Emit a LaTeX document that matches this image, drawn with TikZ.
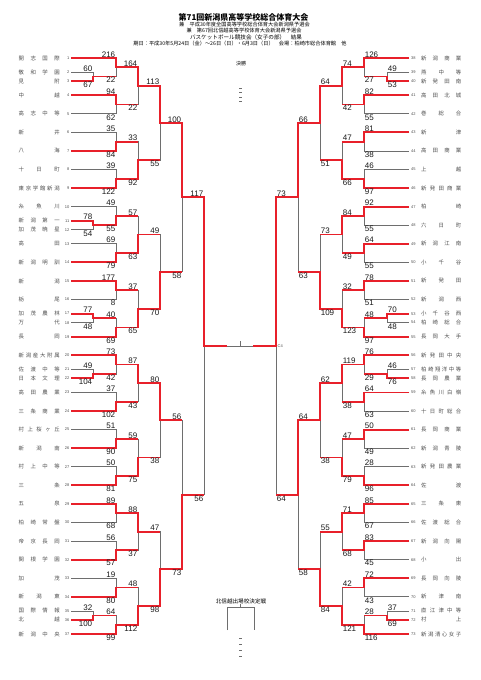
\documentclass[tikz,border=0pt]{standalone}
\usepackage{fontspec}
\setmainfont{Liberation Sans}
\newfontfamily\jp{Noto Sans CJK JP}
\pgfdeclarelayer{bg}
\pgfdeclarelayer{paper}
\pgfsetlayers{paper,bg,main}
\definecolor{rred}{HTML}{E8202A}
\definecolor{lgray}{HTML}{6E6E6E}
\definecolor{tgray}{HTML}{505050}
\def\spreadA#1#2{#1\ifx\relax#2\else\hfill\expandafter\spreadA\expandafter#2\fi}
\newcount\lbc
\tikzset{
 gl/.style={draw=lgray,line width=0.7pt},
 rl/.style={draw=rred,line width=1.8pt},
 sc/.style={font=\fontsize{8}{8.5}\selectfont,inner sep=0.6pt,text=black!90},
 tn/.style={font=\jp\fontsize{5.4}{6}\selectfont,inner sep=0pt,text=tgray},
 tnum/.style={font=\fontsize{4}{4.5}\selectfont,inner sep=0pt,text=tgray},
 hd/.style={font=\jp\fontsize{5.2}{6}\selectfont,inner sep=0pt},
 ta/.style={anchor=south east},tb/.style={anchor=north east}
}
% #1 vertical x, #2 top y, #3 bottom y, #4 top start x, #5 bottom start x,
% #6 top score, #7 bottom score, #8 winner (1 top,2 bottom), #9 next x
\newcommand\MM[9]{%
 \begin{pgfonlayer}{bg}\draw[gl] (#4,#2) -- (#1,#2) -- (#1,#3) -- (#5,#3);\end{pgfonlayer}
 \ifnum#8=1
  \draw[rl] (#4,#2) -- (#1,#2) -- (#1,{(#2+#3)/2}) -- (#9,{(#2+#3)/2});
 \else
  \draw[rl] (#5,#3) -- (#1,#3) -- (#1,{(#2+#3)/2}) -- (#9,{(#2+#3)/2});
 \fi
 \global\advance\lbc by 1
 \node[sc,ta] (s\the\lbc a) at (#1,#2) {#6};
 \node[sc,tb] (s\the\lbc b) at (#1,#3) {#7};
}
\newcommand\TL[3]{\node[tn,anchor=west] (tl#2) at (18.5,#1) {\hbox to 41pt{\spreadA#3\relax}};
 \node[tnum,anchor=east] (nl#2) at (69.5,#1) {#2};}
\newcommand\TR[3]{\node[tn,anchor=west] (tr#2) at (421,#1) {\hbox to 40pt{\spreadA#3\relax}};
 \node[tnum,anchor=west] (nr#2) at (411,#1) {#2};}
\begin{document}
\begin{tikzpicture}[x=1pt,y=-1pt]
\begin{pgfonlayer}{paper}
\fill[white] (0,0) rectangle (481,680);
\end{pgfonlayer}
\useasboundingbox (0,0) rectangle (481,680);
% header
\node[font=\jp\bfseries\fontsize{8}{9}\selectfont,inner sep=0pt] (title) at (243.5,17) {第71回新潟県高等学校総合体育大会};
\node[hd] (h2) at (244.5,25) {兼　平成30年度全国高等学校総合体育大会新潟県予選会};
\node[hd] (h3) at (244,31) {兼　第67回北信越高等学校体育大会新潟県予選会};
\node[hd,font=\jp\fontsize{5.6}{6}\selectfont] (h4) at (246,37.5) {バスケットボール競技会（女子の部）　結果};
\node[hd] (h5) at (240,43.5) {期日：平成30年5月24日（金）～26日（日）・6月3日（日）　会場：柏崎市総合体育館　他};
% left teams
\TL{58.00}{1}{開志国際}
\TL{72.08}{2}{敬和学園}
\TL{81.08}{3}{見附}
\TL{95.16}{4}{中越}
\TL{113.74}{5}{高志中等}
\TL{132.32}{6}{新井}
\TL{150.90}{7}{八海}
\TL{169.48}{8}{十日町}
\TL{188.06}{9}{東京学館新潟}
\TL{206.64}{10}{糸魚川}
\TL{220.72}{11}{新潟第一}
\TL{229.72}{12}{加茂暁星}
\TL{243.80}{13}{高田}
\TL{262.38}{14}{新潟明訓}
\TL{280.96}{15}{新潟}
\TL{299.54}{16}{栃尾}
\TL{313.62}{17}{加茂農林}
\TL{322.62}{18}{万代}
\TL{336.70}{19}{長岡}
\TL{355.28}{20}{新潟産大附属}
\TL{369.36}{21}{佐渡中等}
\TL{378.36}{22}{日本文理}
\TL{392.44}{23}{高田農業}
\TL{411.02}{24}{三条商業}
\TL{429.60}{25}{村上桜ヶ丘}
\TL{448.18}{26}{新潟南}
\TL{466.76}{27}{村上中等}
\TL{485.34}{28}{三条}
\TL{503.92}{29}{五泉}
\TL{522.50}{30}{柏崎常盤}
\TL{541.08}{31}{帝京長岡}
\TL{559.66}{32}{関根学園}
\TL{578.24}{33}{加茂}
\TL{596.82}{34}{新潟東}
\TL{610.90}{35}{国際情報}
\TL{619.90}{36}{北越}
\TL{633.98}{37}{新潟中央}
% right teams
\TR{58.00}{38}{新潟商業}
\TR{72.08}{39}{燕中等}
\TR{81.08}{40}{新発田南}
\TR{95.16}{41}{高田北城}
\TR{113.74}{42}{巻総合}
\TR{132.32}{43}{新津}
\TR{150.90}{44}{高田商業}
\TR{169.48}{45}{上越}
\TR{188.06}{46}{新発田商業}
\TR{206.64}{47}{柏崎}
\TR{225.22}{48}{六日町}
\TR{243.80}{49}{新潟江南}
\TR{262.38}{50}{小千谷}
\TR{280.96}{51}{新発田}
\TR{299.54}{52}{新潟西}
\TR{313.62}{53}{小千谷西}
\TR{322.62}{54}{柏崎総合}
\TR{336.70}{55}{長岡大手}
\TR{355.28}{56}{新発田中央}
\TR{369.36}{57}{柏崎翔洋中等}
\TR{378.36}{58}{長岡農業}
\TR{392.44}{59}{糸魚川白嶺}
\TR{411.02}{60}{十日町総合}
\TR{429.60}{61}{長岡商業}
\TR{448.18}{62}{新潟青陵}
\TR{466.76}{63}{新発田農業}
\TR{485.34}{64}{佐渡}
\TR{503.92}{65}{三条東}
\TR{522.50}{66}{佐渡総合}
\TR{541.08}{67}{新潟向陽}
\TR{559.66}{68}{小出}
\TR{578.24}{69}{長岡向陵}
\TR{596.82}{70}{新津南}
\TR{610.90}{71}{直江津中等}
\TR{619.90}{72}{村上}
\TR{633.98}{73}{新潟清心女子}
% left bracket
\MM{93}{72.08}{81.08}{71}{71}{60}{67}{2}{116}
\MM{93}{220.72}{229.72}{71}{71}{78}{54}{1}{116}
\MM{93}{313.62}{322.62}{71}{71}{77}{48}{1}{116}
\MM{93}{369.36}{378.36}{71}{71}{49}{104}{2}{116}
\MM{93}{610.90}{619.90}{71}{71}{32}{100}{2}{116}
\MM{116}{58.00}{76.58}{71}{93}{216}{22}{1}{138}
\MM{116}{95.16}{113.74}{71}{71}{94}{62}{1}{138}
\MM{116}{132.32}{150.90}{71}{71}{35}{84}{2}{138}
\MM{116}{169.48}{188.06}{71}{71}{39}{122}{2}{138}
\MM{116}{206.64}{225.22}{71}{93}{49}{55}{2}{138}
\MM{116}{243.80}{262.38}{71}{71}{69}{79}{2}{138}
\MM{116}{280.96}{299.54}{71}{71}{177}{8}{1}{138}
\MM{116}{318.12}{336.70}{93}{71}{40}{69}{2}{138}
\MM{116}{355.28}{373.86}{71}{93}{73}{42}{1}{138}
\MM{116}{392.44}{411.02}{71}{71}{37}{102}{2}{138}
\MM{116}{429.60}{448.18}{71}{71}{51}{90}{2}{138}
\MM{116}{466.76}{485.34}{71}{71}{50}{81}{2}{138}
\MM{116}{503.92}{522.50}{71}{71}{89}{68}{1}{138}
\MM{116}{541.08}{559.66}{71}{71}{56}{57}{2}{138}
\MM{116}{578.24}{596.82}{71}{71}{19}{80}{2}{138}
\MM{116}{615.40}{633.98}{93}{71}{64}{99}{2}{138}
\MM{138}{67.29}{104.45}{116}{116}{164}{22}{1}{160}
\MM{138}{141.61}{178.77}{116}{116}{33}{92}{2}{160}
\MM{138}{215.93}{253.09}{116}{116}{57}{63}{2}{160}
\MM{138}{290.25}{327.41}{116}{116}{37}{65}{2}{160}
\MM{138}{364.57}{401.73}{116}{116}{87}{43}{1}{160}
\MM{138}{438.89}{476.05}{116}{116}{59}{75}{2}{160}
\MM{138}{513.21}{550.37}{116}{116}{88}{37}{1}{160}
\MM{138}{587.53}{624.69}{116}{116}{48}{112}{2}{160}
\MM{160}{85.87}{160.19}{138}{138}{113}{55}{1}{182}
\MM{160}{234.51}{308.83}{138}{138}{49}{70}{2}{182}
\MM{160}{383.15}{457.47}{138}{138}{80}{38}{1}{182}
\MM{160}{531.79}{606.11}{138}{138}{47}{98}{2}{182}
\MM{182}{123.03}{271.67}{160}{160}{100}{58}{1}{204}
\MM{182}{420.31}{568.95}{160}{160}{56}{73}{2}{204}
\MM{204}{197.35}{494.63}{182}{182}{117}{56}{1}{227}
% right bracket
\tikzset{ta/.style={anchor=south west},tb/.style={anchor=north west}}
\MM{387}{72.08}{81.08}{409}{409}{49}{53}{2}{364}
\MM{387}{313.62}{322.62}{409}{409}{70}{48}{1}{364}
\MM{387}{369.36}{378.36}{409}{409}{46}{76}{2}{364}
\MM{387}{610.90}{619.90}{409}{409}{37}{69}{2}{364}
\MM{364}{58.00}{76.58}{409}{387}{126}{27}{1}{342}
\MM{364}{95.16}{113.74}{409}{409}{82}{55}{1}{342}
\MM{364}{132.32}{150.90}{409}{409}{81}{38}{1}{342}
\MM{364}{169.48}{188.06}{409}{409}{46}{97}{2}{342}
\MM{364}{206.64}{225.22}{409}{409}{92}{55}{1}{342}
\MM{364}{243.80}{262.38}{409}{409}{64}{55}{1}{342}
\MM{364}{280.96}{299.54}{409}{409}{78}{51}{1}{342}
\MM{364}{318.12}{336.70}{387}{409}{48}{97}{2}{342}
\MM{364}{355.28}{373.86}{409}{387}{76}{29}{1}{342}
\MM{364}{392.44}{411.02}{409}{409}{64}{63}{1}{342}
\MM{364}{429.60}{448.18}{409}{409}{50}{49}{1}{342}
\MM{364}{466.76}{485.34}{409}{409}{28}{96}{2}{342}
\MM{364}{503.92}{522.50}{409}{409}{85}{67}{1}{342}
\MM{364}{541.08}{559.66}{409}{409}{83}{45}{1}{342}
\MM{364}{578.24}{596.82}{409}{409}{72}{43}{1}{342}
\MM{364}{615.40}{633.98}{387}{409}{28}{116}{2}{342}
\MM{342}{67.29}{104.45}{364}{364}{74}{42}{1}{320}
\MM{342}{141.61}{178.77}{364}{364}{47}{66}{2}{320}
\MM{342}{215.93}{253.09}{364}{364}{84}{49}{1}{320}
\MM{342}{290.25}{327.41}{364}{364}{32}{123}{2}{320}
\MM{342}{364.57}{401.73}{364}{364}{119}{38}{1}{320}
\MM{342}{438.89}{476.05}{364}{364}{47}{79}{2}{320}
\MM{342}{513.21}{550.37}{364}{364}{71}{68}{1}{320}
\MM{342}{587.53}{624.69}{364}{364}{42}{121}{2}{320}
\MM{320}{85.87}{160.19}{342}{342}{64}{51}{1}{298}
\MM{320}{234.51}{308.83}{342}{342}{73}{109}{2}{298}
\MM{320}{383.15}{457.47}{342}{342}{62}{38}{1}{298}
\MM{320}{531.79}{606.11}{342}{342}{55}{84}{2}{298}
\MM{298}{123.03}{271.67}{320}{320}{66}{63}{1}{276}
\MM{298}{420.31}{568.95}{320}{320}{64}{58}{1}{276}
\MM{276}{197.35}{494.63}{298}{298}{73}{64}{1}{253}
% final
\begin{pgfonlayer}{bg}
\draw[gl] (204,345.99) -- (276,345.99);
\draw[gl] (240.5,341) -- (240.5,345.99);
\end{pgfonlayer}
\node[tnum,anchor=west] (c4) at (277.5,346) {C4};
\node[hd,font=\jp\fontsize{5}{6}\selectfont] (kessho) at (241,64) {決勝};
\foreach \yy in {88,92.5,97,101.5} \draw[lgray,line width=0.5pt] (239.2,\yy) -- (242.2,\yy);
% hokushinetsu
\node[hd,font=\jp\fontsize{5.6}{6}\selectfont] (hse) at (241,601) {北信越出場校決定戦};
\draw[gl] (227,630) -- (227,607.5) -- (254,607.5) -- (254,630);
\draw[gl] (240.5,603.5) -- (240.5,607.5);
\foreach \yy in {638,644,650,656} \draw[lgray,line width=0.5pt] (239.2,\yy) -- (242.2,\yy);
\end{tikzpicture}
\end{document}
